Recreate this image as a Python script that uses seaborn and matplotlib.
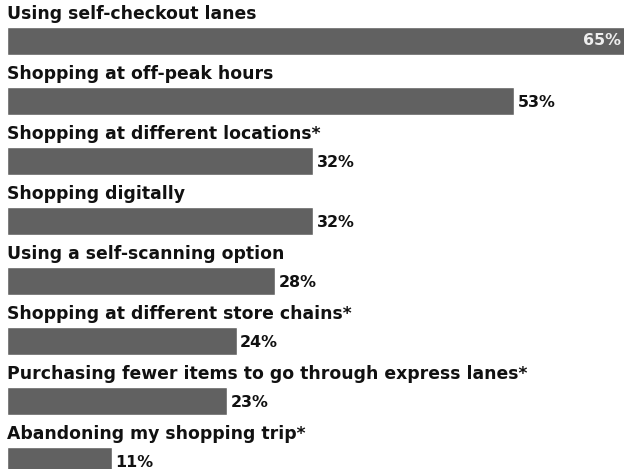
import matplotlib
matplotlib.use("Agg")
import matplotlib.pyplot as plt
import seaborn as sns
import pandas as pd

categories = [
    "Using self-checkout lanes",
    "Shopping at off-peak hours",
    "Shopping at different locations*",
    "Shopping digitally",
    "Using a self-scanning option",
    "Shopping at different store chains*",
    "Purchasing fewer items to go through express lanes*",
    "Abandoning my shopping trip*",
]
values = [65, 53, 32, 32, 28, 24, 23, 11]
value_labels = ["65%", "53%", "32%", "32%", "28%", "24%", "23%", "11%"]

sns.set_style("white")
plt.rcParams["font.family"] = ["DejaVu Sans"]

df = pd.DataFrame({"cat": categories, "val": values})

fig = plt.figure(figsize=(6.24, 4.69), dpi=100)
ax = fig.add_axes([0, 0, 1, 1])
sns.barplot(data=df, x="val", y="cat", orient="h", color="#616161",
            saturation=1, width=0.467, ax=ax)

ax.set_xlim(-0.73, 64.47)
ax.set_ylim(7.133, -0.683)
ax.axis("off")

for i, (c, v, lab) in enumerate(zip(categories, values, value_labels)):
    ax.text(0 - 0.05, i - 0.36, c, ha="left", va="baseline",
            fontsize=12.4, fontweight="bold", color="#111111")
    if i == 0:
        ax.text(64.2, i, lab, ha="right", va="center",
                fontsize=11.4, fontweight="bold", color="#eeeeee")
    else:
        ax.text(v + 0.35, i + 0.03, lab, ha="left", va="center",
                fontsize=11.4, fontweight="bold", color="#111111")

fig.savefig("out.png", dpi=100)
